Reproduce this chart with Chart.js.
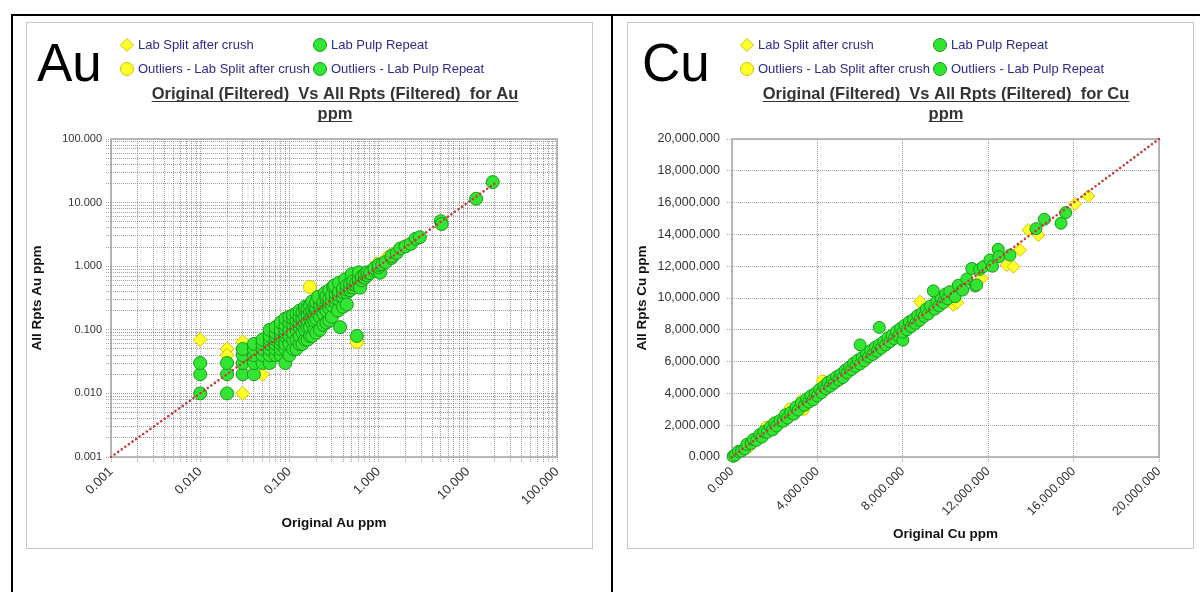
<!DOCTYPE html>
<html>
<head>
<meta charset="utf-8">
<title>Original vs All Repeats</title>
<script src="https://cdn.jsdelivr.net/npm/chart.js@4.4.1/dist/chart.umd.min.js"></script>
<style>
  html, body { margin: 0; padding: 0; background: #fff; }
  body { width: 1200px; height: 592px; position: relative; overflow: hidden;
         font-family: "Liberation Sans", Arial, sans-serif; }
  .rule { position: absolute; background: #000; }
  .panel { position: absolute; border: 1px solid #c6c6c6; background: #fff; }
  .panel canvas { position: absolute; left: 0; top: 0; }
  .element { position: absolute; font-size: 53px; line-height: 1; color: #000; }
</style>
</head>
<body>
<div class="rule" style="left:11px;top:14px;width:1189px;height:2px"></div>
<div class="rule" style="left:11px;top:14px;width:2px;height:578px"></div>
<div class="rule" style="left:611px;top:14px;width:2px;height:578px"></div>

<div class="panel" style="left:26px;top:22px;width:565px;height:525px">
  <canvas id="auChart" width="565" height="525"></canvas>
</div>
<div class="panel" style="left:627px;top:22px;width:565px;height:525px">
  <canvas id="cuChart" width="565" height="525"></canvas>
</div>
<div class="element" style="left:37px;top:36px">Au</div>
<div class="element" style="left:642px;top:36px">Cu</div>

<script>
// ---------- series names ----------
const legendLabels = [
  'Lab Split after crush',
  'Lab Pulp Repeat',
  'Outliers - Lab Split after crush',
  'Outliers - Lab Pulp Repeat'
];

// ---------- Au (ppm): [original, repeat] ----------
const auSplit = [
  [0.01, 0.07], [0.02, 0.05], [0.02, 0.04], [0.03, 0.065], [0.03, 0.01], [0.05, 0.02],
  [0.07, 0.085], [0.12, 0.13], [0.2, 0.22], [0.35, 0.37], [0.6, 0.62], [0.8, 0.85],
  [0.95, 1.1], [1.05, 1.0], [1.25, 1.4], [1.35, 1.5]
];
const auPulp = [
  [0.01, 0.01], [0.01, 0.02], [0.01, 0.03],
  [0.02, 0.01], [0.02, 0.02], [0.02, 0.03],
  [0.03, 0.02], [0.03, 0.03], [0.03, 0.04], [0.03, 0.05],
  [0.04, 0.02], [0.04, 0.03], [0.04, 0.04], [0.04, 0.05], [0.04, 0.06],
  [0.05, 0.03], [0.05, 0.04], [0.05, 0.05], [0.05, 0.06], [0.05, 0.07],
  [0.06, 0.03], [0.06, 0.04], [0.06, 0.05], [0.06, 0.06], [0.06, 0.07], [0.06, 0.08], [0.06, 0.10],
  [0.07, 0.04], [0.07, 0.05], [0.07, 0.06], [0.07, 0.07], [0.07, 0.08], [0.07, 0.09], [0.07, 0.11],
  [0.08, 0.04], [0.08, 0.05], [0.08, 0.06], [0.08, 0.07], [0.08, 0.08], [0.08, 0.09], [0.08, 0.10], [0.08, 0.13],
  [0.09, 0.03], [0.09, 0.05], [0.09, 0.06], [0.09, 0.08], [0.09, 0.09], [0.09, 0.10], [0.09, 0.12], [0.09, 0.15],
  [0.10, 0.04], [0.10, 0.06], [0.10, 0.08], [0.10, 0.10], [0.10, 0.13], [0.10, 0.16],
  [0.11, 0.05], [0.11, 0.07], [0.11, 0.09], [0.11, 0.12], [0.11, 0.15], [0.11, 0.17],
  [0.12, 0.05], [0.12, 0.07], [0.12, 0.10], [0.12, 0.12], [0.12, 0.14], [0.12, 0.18],
  [0.13, 0.06], [0.13, 0.08], [0.13, 0.11], [0.13, 0.13], [0.13, 0.16], [0.13, 0.20],
  [0.14, 0.06], [0.14, 0.09], [0.14, 0.12], [0.14, 0.15], [0.14, 0.19],
  [0.15, 0.07], [0.15, 0.10], [0.15, 0.13], [0.15, 0.16], [0.15, 0.21], [0.15, 0.23],
  [0.16, 0.07], [0.16, 0.11], [0.16, 0.14], [0.16, 0.17], [0.16, 0.22],
  [0.17, 0.08], [0.17, 0.11], [0.17, 0.15], [0.17, 0.19], [0.17, 0.24],
  [0.18, 0.08], [0.18, 0.13], [0.18, 0.17], [0.18, 0.20], [0.18, 0.28],
  [0.19, 0.10], [0.19, 0.14], [0.19, 0.18], [0.19, 0.23],
  [0.20, 0.09], [0.20, 0.15], [0.20, 0.19], [0.20, 0.22], [0.20, 0.27],
  [0.22, 0.10], [0.22, 0.16], [0.22, 0.21], [0.22, 0.25], [0.22, 0.30], [0.21, 0.33],
  [0.24, 0.12], [0.24, 0.18], [0.24, 0.23], [0.24, 0.27], [0.25, 0.38],
  [0.26, 0.13], [0.26, 0.20], [0.26, 0.25], [0.26, 0.30], [0.26, 0.34],
  [0.28, 0.14], [0.28, 0.22], [0.28, 0.27], [0.28, 0.31], [0.28, 0.42],
  [0.30, 0.16], [0.30, 0.24], [0.30, 0.29], [0.30, 0.35],
  [0.33, 0.27], [0.33, 0.31], [0.33, 0.37], [0.31, 0.48], [0.32, 0.50],
  [0.35, 0.20], [0.36, 0.30], [0.36, 0.35], [0.36, 0.40], [0.36, 0.55],
  [0.40, 0.23], [0.40, 0.33], [0.40, 0.39], [0.40, 0.45], [0.42, 0.62],
  [0.44, 0.38], [0.44, 0.43], [0.44, 0.50],
  [0.48, 0.42], [0.48, 0.47], [0.48, 0.53], [0.50, 0.75],
  [0.52, 0.46], [0.52, 0.52], [0.52, 0.58],
  [0.56, 0.50], [0.56, 0.55], [0.60, 0.57], [0.60, 0.63], [0.60, 0.80], [0.62, 0.46],
  [0.65, 0.60], [0.65, 0.68], [0.70, 0.66], [0.70, 0.74],
  [0.75, 0.72], [0.75, 0.80], [0.80, 0.78], [0.90, 0.85], [0.90, 0.93], [1.04, 0.79],
  [1.00, 0.97], [1.00, 1.05], [1.10, 1.08], [1.20, 1.16],
  [1.40, 1.35], [1.40, 1.45], [1.60, 1.62], [1.75, 1.90],
  [2.00, 2.05], [2.30, 2.25], [2.60, 2.70], [2.90, 2.85],
  [5.00, 5.10], [5.10, 4.60], [12.4, 11.5], [19.0, 21.0]
];
const auSplitOut = [[0.17, 0.47], [0.57, 0.065]];
const auPulpOut = [[0.37, 0.11], [0.57, 0.08], [0.44, 0.25]];
const auParity = [[0.001, 0.001], [20, 20]];
const auMajorTicks = [0.001, 0.01, 0.1, 1, 10, 100];

// ---------- Cu (ppm): [original, repeat] ----------
const cuSplit = [
  [1000, 900], [1500, 1450], [2300, 2250], [4800, 4900], [5500, 5600], [7600, 7650],
  [8800, 9770], [10370, 9560], [10550, 9700], [11700, 11250], [12870, 12075],
  [13180, 11970], [13490, 13020], [13880, 14280], [14350, 13960], [16070, 15910], [16690, 16410]
];
const cuPulp = [
  [50, 40], [150, 120], [300, 350], [450, 380], [600, 520], [700, 800], [900, 850],
  [1000, 1100], [1150, 1050], [1300, 1400], [1400, 1250], [1500, 1600], [1650, 1550],
  [1800, 1900], [1900, 1700], [2000, 2150], [2100, 1950], [2250, 2300], [2400, 2250],
  [2500, 2650], [2600, 2450], [2750, 2800], [2900, 2700], [3000, 3150], [3100, 2950],
  [3250, 3400], [3400, 3250], [3500, 3650], [3600, 3450], [3700, 3850], [3800, 3600],
  [3900, 4000], [4000, 3850], [4100, 4250], [4200, 4050], [4300, 4450], [4400, 4300],
  [4500, 4700], [4600, 4450], [4700, 4850], [4800, 4650], [4900, 5050], [5000, 4850],
  [5100, 5200], [5200, 5000], [5300, 5450], [5400, 5300], [5500, 5650], [5600, 5500],
  [5700, 5900], [5800, 5700], [5900, 6100], [6000, 5850], [6100, 6250], [6200, 6050],
  [6300, 6500], [6400, 6300], [6500, 6700], [6600, 6450], [6700, 6900], [6800, 6650],
  [6900, 7050], [7000, 6850], [7100, 7250], [7200, 7050], [7300, 7500], [7400, 7250],
  [7500, 7650], [7600, 7450], [7700, 7900], [7800, 7600], [7900, 8100], [8000, 7350],
  [8000, 7850], [8100, 8300], [8200, 8000], [8300, 8500], [8400, 8200], [8500, 8650],
  [8600, 8400], [8700, 8900], [8800, 8600], [8900, 9050], [9000, 8850], [9100, 9300],
  [9200, 9000], [9300, 9500], [9500, 9300], [9600, 9800], [9700, 9500], [9800, 10000],
  [9900, 9700], [10000, 10250], [10100, 9950], [10200, 10400], [10450, 10080],
  [10600, 10800], [10800, 10500], [11000, 11200], [11230, 11860], [11380, 10750],
  [11460, 10820], [11600, 11800], [11770, 11970], [12080, 12390], [12200, 12000],
  [12470, 13060], [12500, 12600], [13020, 12700], [14240, 14360], [14630, 14950],
  [15410, 14700], [15630, 15370]
];
const cuSplitOut = [[760, 650], [1620, 1870], [2720, 3000], [3270, 3520], [3340, 3000], [4250, 4780]];
const cuPulpOut = [[6000, 7050], [6900, 8150], [9430, 10450]];
const cuParity = [[0, 0], [20000, 20000]];
const cuXTicks = [0, 4000, 8000, 12000, 16000, 20000];
const cuYTicks = [0, 2000, 4000, 6000, 8000, 10000, 12000, 14000, 16000, 18000, 20000];

// ---------- styling ----------
const FONT = '"Liberation Sans", Arial, sans-serif';
const GREEN = '#33e533', GREEN_EDGE = '#179a17';
const YELLOW = '#ffff2a', YELLOW_EDGE = '#d4bf00';
const PARITY = '#c43a3a';
const GRID = 'rgba(110,110,110,0.65)';
const TICK_INK = '#333333';
const LEGEND_INK = '#2c2c88';

const toPoints = arr => arr.map(([x, y]) => ({ x, y }));

function buildDatasets(split, pulp, splitOut, pulpOut, parity, r) {
  const common = { borderWidth: 1, pointHoverRadius: r, clip: false };
  return [
    { ...common, label: legendLabels[0], data: toPoints(split), pointStyle: 'rectRot', pointRadius: r + 0.5,
      backgroundColor: YELLOW, borderColor: YELLOW_EDGE, order: 3 },
    { ...common, label: legendLabels[1], data: toPoints(pulp), pointStyle: 'circle', pointRadius: r,
      backgroundColor: GREEN, borderColor: GREEN_EDGE, order: 2 },
    { ...common, label: legendLabels[2], data: toPoints(splitOut), pointStyle: 'circle', pointRadius: r,
      backgroundColor: YELLOW, borderColor: YELLOW_EDGE, order: 3 },
    { ...common, label: legendLabels[3], data: toPoints(pulpOut), pointStyle: 'circle', pointRadius: r,
      backgroundColor: GREEN, borderColor: GREEN_EDGE, order: 1 },
    { type: 'line', label: '1:1', data: toPoints(parity), borderColor: PARITY, borderWidth: 2.6,
      borderDash: [0, 4.4], borderCapStyle: 'round', pointRadius: 0, fill: false, order: 0, clip: false }
  ];
}

// Solid grey box round the plotting area, under the markers.
const plotFrame = {
  id: 'plotFrame',
  beforeDatasetsDraw(chart) {
    const { ctx, chartArea: a } = chart;
    ctx.save();
    ctx.strokeStyle = '#a6a6a6';
    ctx.lineWidth = 1.5;
    ctx.strokeRect(a.left, a.top, a.right - a.left, a.bottom - a.top);
    ctx.restore();
  }
};

// Two-column legend and the underlined heading above the plot.
const header = {
  id: 'header',
  afterDraw(chart, args, o) {
    const ctx = chart.ctx;
    ctx.save();
    const slots = [[o.col1, o.row1], [o.col2, o.row1], [o.col1, o.row2], [o.col2, o.row2]];
    slots.forEach(([x, y], i) => {
      const ds = chart.data.datasets[i];
      ctx.fillStyle = ds.backgroundColor;
      ctx.strokeStyle = ds.borderColor;
      ctx.lineWidth = 1;
      Chart.helpers.drawPoint(ctx, { pointStyle: ds.pointStyle, radius: 6.5, rotation: 0, borderWidth: 1 }, x, y);
      ctx.fillStyle = LEGEND_INK;
      ctx.font = '13px ' + FONT;
      ctx.textBaseline = 'middle';
      ctx.textAlign = 'left';
      ctx.fillText(ds.label, x + 11, y + 0.5);
    });
    ctx.font = 'bold 16.5px ' + FONT;
    ctx.fillStyle = '#333333';
    ctx.strokeStyle = '#333333';
    ctx.textAlign = 'center';
    ctx.textBaseline = 'alphabetic';
    ctx.lineWidth = 1.2;
    o.title.forEach((line, i) => {
      const base = o.titleTop + i * 20;
      ctx.fillText(line, o.titleX, base);
      const w = ctx.measureText(line).width;
      ctx.beginPath();
      ctx.moveTo(o.titleX - w / 2, base + 2.5);
      ctx.lineTo(o.titleX + w / 2, base + 2.5);
      ctx.stroke();
    });
    ctx.restore();
  }
};

const isDecade = v => Math.abs(Math.log10(v) - Math.round(Math.log10(v))) < 1e-9;
const cuFormat = v => Number(v).toLocaleString('en-US', { minimumFractionDigits: 3, maximumFractionDigits: 3 });

// Log grid: every 1..9 step inside each decade between the labelled decades.
function logGridValues(decades) {
  const out = [];
  for (let i = 0; i < decades.length - 1; i++) {
    for (let k = 1; k < 10; k++) out.push(+(decades[i] * k).toPrecision(6));
  }
  out.push(decades[decades.length - 1]);
  return out;
}

function gridOpts() {
  return { color: GRID, lineWidth: 1, tickLength: 5, tickColor: GRID, tickBorderDash: [1, 1] };
}

function baseOptions(p) {
  return {
    responsive: false,
    animation: false,
    devicePixelRatio: 1,
    layout: { padding: { top: 116, right: p.padRight, left: 0, bottom: 0 } },
    plugins: {
      legend: { display: false },
      tooltip: { enabled: false },
      header: p.header
    },
    scales: {}
  };
}

// ---------- Au chart (log–log) ----------
(function () {
  const opts = baseOptions({
    padRight: 35,
    header: { col1: 100, col2: 293, row1: 22, row2: 46, titleX: 308, titleTop: 76,
              title: ['Original (Filtered)  Vs All Rpts (Filtered)  for Au', 'ppm'] }
  });
  const gridVals = logGridValues(auMajorTicks);
  opts.scales.x = {
    type: 'logarithmic', min: auMajorTicks[0], max: auMajorTicks[auMajorTicks.length - 1],
    afterBuildTicks: s => { s.ticks = gridVals.map(v => ({ value: v, major: isDecade(v) })); },
    afterFit: s => { s.height = 91; },
    ticks: { autoSkip: false, minRotation: 45, maxRotation: 45, padding: 2, color: TICK_INK,
             font: { family: FONT, size: 13 },
             callback: v => isDecade(v) ? Number(v).toFixed(3) : '' },
    grid: gridOpts(),
    border: { display: false, dash: [1, 1] },
    title: { display: true, text: 'Original Au ppm', color: '#111', padding: { top: 0, bottom: 17 },
             font: { family: FONT, size: 13.5, weight: 'bold' } }
  };
  opts.scales.y = {
    type: 'logarithmic', min: auMajorTicks[0], max: auMajorTicks[auMajorTicks.length - 1],
    afterBuildTicks: s => { s.ticks = gridVals.map(v => ({ value: v, major: isDecade(v) })); },
    afterFit: s => { s.width = 84; },
    ticks: { autoSkip: false, padding: 4, color: TICK_INK, font: { family: FONT, size: 11 },
             callback: v => isDecade(v) ? Number(v).toFixed(3) : '' },
    grid: gridOpts(),
    border: { display: false, dash: [1, 1] },
    title: { display: true, text: 'All Rpts Au ppm', color: '#111', padding: { top: 2, bottom: 0 },
             font: { family: FONT, size: 13.5, weight: 'bold' } }
  };
  new Chart(document.getElementById('auChart'), {
    type: 'scatter',
    data: { datasets: buildDatasets(auSplit, auPulp, auSplitOut, auPulpOut, auParity, 6.5) },
    options: opts,
    plugins: [plotFrame, header]
  });
})();

// ---------- Cu chart (linear) ----------
(function () {
  const opts = baseOptions({
    padRight: 34,
    header: { col1: 119, col2: 312, row1: 22, row2: 46, titleX: 318, titleTop: 76,
              title: ['Original (Filtered)  Vs All Rpts (Filtered)  for Cu', 'ppm'] }
  });
  opts.scales.x = {
    type: 'linear', min: cuXTicks[0], max: cuXTicks[cuXTicks.length - 1],
    afterBuildTicks: s => { s.ticks = cuXTicks.map(v => ({ value: v })); },
    afterFit: s => { s.height = 91; },
    ticks: { autoSkip: false, minRotation: 45, maxRotation: 45, padding: 2, color: TICK_INK,
             font: { family: FONT, size: 12.5 }, callback: cuFormat },
    grid: gridOpts(),
    border: { display: false, dash: [1, 1] },
    title: { display: true, text: 'Original Cu ppm', color: '#111', padding: { top: 0, bottom: 6 },
             font: { family: FONT, size: 13.5, weight: 'bold' } }
  };
  opts.scales.y = {
    type: 'linear', min: cuYTicks[0], max: cuYTicks[cuYTicks.length - 1],
    afterBuildTicks: s => { s.ticks = cuYTicks.map(v => ({ value: v })); },
    afterFit: s => { s.width = 104; },
    ticks: { autoSkip: false, padding: 7, color: TICK_INK, font: { family: FONT, size: 12.5 },
             callback: cuFormat },
    grid: gridOpts(),
    border: { display: false, dash: [1, 1] },
    title: { display: true, text: 'All Rpts Cu ppm', color: '#111', padding: { top: 6, bottom: 0 },
             font: { family: FONT, size: 13.5, weight: 'bold' } }
  };
  new Chart(document.getElementById('cuChart'), {
    type: 'scatter',
    data: { datasets: buildDatasets(cuSplit, cuPulp, cuSplitOut, cuPulpOut, cuParity, 6) },
    options: opts,
    plugins: [plotFrame, header]
  });
})();
</script>
</body>
</html>
